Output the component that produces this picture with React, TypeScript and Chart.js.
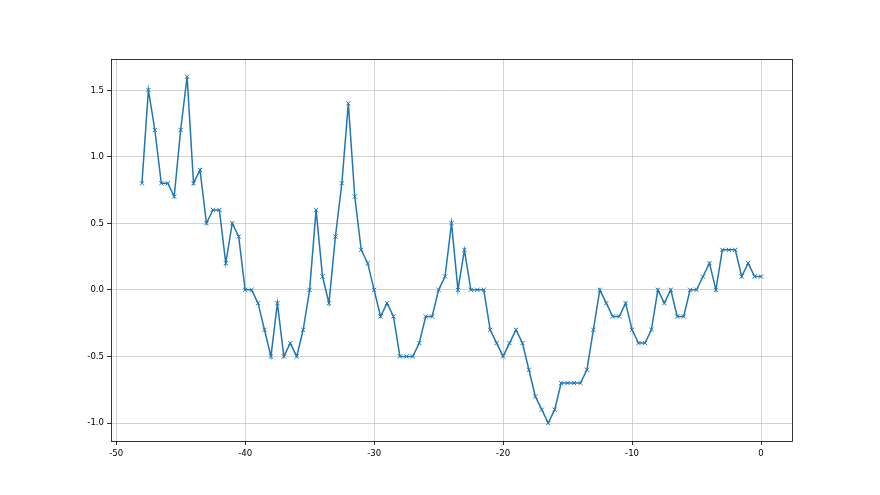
import React, { useEffect, useRef } from "react";
import { Chart, registerables } from "chart.js";

Chart.register(...registerables);

const xStart = -48;
const xStep = 0.5;
const seriesValues = [
  0.8, 1.5, 1.2, 0.8, 0.8, 0.7, 1.2, 1.6, 0.8, 0.9,
  0.5, 0.6, 0.6, 0.2, 0.5, 0.4, 0.0, 0.0, -0.1, -0.3,
  -0.5, -0.1, -0.5, -0.4, -0.5, -0.3, 0.0, 0.6, 0.1, -0.1,
  0.4, 0.8, 1.4, 0.7, 0.3, 0.2, 0.0, -0.2, -0.1, -0.2,
  -0.5, -0.5, -0.5, -0.4, -0.2, -0.2, 0.0, 0.1, 0.5, 0.0,
  0.3, 0.0, 0.0, 0.0, -0.3, -0.4, -0.5, -0.4, -0.3, -0.4,
  -0.6, -0.8, -0.9, -1.0, -0.9, -0.7, -0.7, -0.7, -0.7, -0.6,
  -0.3, 0.0, -0.1, -0.2, -0.2, -0.1, -0.3, -0.4, -0.4, -0.3,
  0.0, -0.1, 0.0, -0.2, -0.2, 0.0, 0.0, 0.1, 0.2, 0.0,
  0.3, 0.3, 0.3, 0.1, 0.2, 0.1, 0.1,
];
const xTicks = [-50, -40, -30, -20, -10, 0];
const yTicks = [-1.0, -0.5, 0.0, 0.5, 1.0, 1.5];

const fmt = (v: number, d: number) => v.toFixed(d);

const framePlugin = {
  id: "frame",
  afterDraw(chart: any) {
    const { ctx, chartArea } = chart;
    ctx.save();
    ctx.strokeStyle = "#000";
    ctx.lineWidth = 0.8;
    ctx.strokeRect(
      Math.round(chartArea.left) + 0.5,
      Math.round(chartArea.top) + 0.5,
      Math.round(chartArea.right - chartArea.left),
      Math.round(chartArea.bottom - chartArea.top)
    );
    ctx.restore();
  },
};

export default function App() {
  const ref = useRef<HTMLCanvasElement>(null);
  useEffect(() => {
    if (!ref.current) return;
    const data = seriesValues.map((y, i) => ({ x: xStart + i * xStep, y }));
    const font = { family: "DejaVu Sans Condensed, DejaVu Sans", size: 9.5 };
    const chart = new Chart(ref.current, {
      type: "line",
      data: {
        datasets: [
          {
            data,
            borderColor: "#1f77b4",
            backgroundColor: "#1f77b4",
            borderWidth: 1.5,
            pointStyle: "crossRot",
            pointRadius: 3,
            pointBorderWidth: 1,
            pointHoverRadius: 3,
            tension: 0,
            fill: false,
          },
        ],
      },
      options: {
        animation: false,
        responsive: false,
        maintainAspectRatio: false,
        events: [],
        layout: { padding: { left: 0, top: 59, right: 88, bottom: 0 } },
        plugins: { legend: { display: false }, tooltip: { enabled: false } },
        scales: {
          x: {
            type: "linear",
            min: -50.4,
            max: 2.4,
            afterBuildTicks: (s: any) => {
              s.ticks = xTicks.map((v) => ({ value: v }));
            },
            afterFit: (s: any) => {
              s.height = 54;
            },
            ticks: {
              callback: (v: any) => fmt(Number(v), 0),
              color: "#000",
              font,
              padding: 3,
              maxRotation: 0,
              autoSkip: false,
            },
            grid: {
              color: "#c8c8c8",
              lineWidth: 0.8,
              tickColor: "#000",
              tickLength: 4,
            },
            border: { display: false },
          },
          y: {
            type: "linear",
            min: -1.135,
            max: 1.733,
            afterBuildTicks: (s: any) => {
              s.ticks = yTicks.map((v) => ({ value: v }));
            },
            afterFit: (s: any) => {
              s.width = 111;
            },
            ticks: {
              callback: (v: any) => fmt(Number(v), 1),
              color: "#000",
              font,
              padding: 3,
              autoSkip: false,
            },
            grid: {
              color: "#c8c8c8",
              lineWidth: 0.8,
              tickColor: "#000",
              tickLength: 4,
            },
            border: { display: false },
          },
        },
      },
      plugins: [framePlugin],
    } as any);
    return () => chart.destroy();
  }, []);
  return (
    <div style={{ position: "fixed", left: 0, top: 0, width: 880, height: 495, background: "#fff" }}>
      <canvas ref={ref} width={880} height={495} style={{ width: 880, height: 495 }} />
    </div>
  );
}
